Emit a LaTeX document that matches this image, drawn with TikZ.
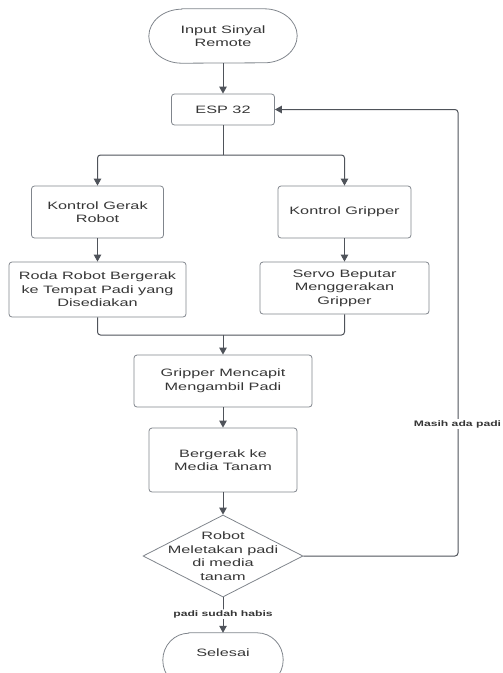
\documentclass[tikz,border=0pt]{standalone}
\usepackage{fontspec}
\setmainfont{Liberation Sans}[FakeStretch=1.52]
\usetikzlibrary{arrows.meta,shapes.geometric}

\definecolor{linegray}{HTML}{4F535A}
\definecolor{boxgray}{HTML}{80858C}
\definecolor{textgray}{HTML}{363636}

\tikzset{
    box/.style={draw=boxgray, line width=0.8pt, rounded corners=3pt, align=center,
        text=textgray, inner sep=0pt, font=\fontsize{10.7}{13.6}\selectfont},
    term/.style={align=center, text=textgray, inner sep=0pt,
        font=\fontsize{10.7}{13.6}\selectfont},
    decision/.style={diamond, draw=boxgray, line width=0.8pt, inner sep=0pt},
    line/.style={draw=linegray, line width=1pt, rounded corners=3pt},
    flow/.style={line, -{Triangle[length=7pt,width=7.5pt]}},
    cond/.style={fill=white, text=textgray, inner sep=1pt,
        font=\bfseries\fontsize{8}{9}\selectfont}
}

% outline of a terminal node: straight top and bottom, elliptic ends
\newcommand\pill[3]{%
    \draw[boxgray, line width=0.8pt] ([xshift=#2]#1.north west) -- ([xshift=-#2]#1.north east)
        arc[start angle=90, end angle=-90, x radius=#2, y radius=#3]
        -- ([xshift=#2]#1.south west)
        arc[start angle=270, end angle=90, x radius=#2, y radius=#3] -- cycle;}

\begin{document}
\begin{tikzpicture}[x=1pt, y=-1pt]
    \useasboundingbox (0,0) rectangle (503,673);
    \clip (0,0) rectangle (503,673);

    \node[term, minimum width=148pt, minimum height=54pt] (start) at (223,36) {Input Sinyal\\Remote};
    \pill{start}{33pt}{27pt}
    \node[box, minimum width=103pt, minimum height=31pt] (esp) at (223,109.5) {ESP 32};
    \node[box, minimum width=132pt, minimum height=52pt] (gerak) at (97.5,212) {Kontrol Gerak\\Robot};
    \node[box, minimum width=133pt, minimum height=52pt] (gripper) at (344.5,212) {Kontrol Gripper};
    \node[box, minimum width=177pt, minimum height=55pt] (roda) at (97.5,289.5) {Roda Robot Bergerak\\ke Tempat Padi yang\\Disediakan};
    \node[box, minimum width=169pt, minimum height=52pt] (servo) at (344.5,288) {Servo Beputar\\Menggerakan\\Gripper};
    \node[box, minimum width=178pt, minimum height=52pt] (capit) at (223,381) {Gripper Mencapit\\Mengambil Padi};
    \node[box, minimum width=148pt, minimum height=64pt] (tanam) at (223,460) {Bergerak ke\\Media Tanam};
    \node[decision, minimum width=160pt, minimum height=82pt,
        label={[term]center:Robot\\Meletakan padi\\di media\\tanam}] (place) at (223,556) {};
    \node[minimum width=120pt, minimum height=54pt, inner sep=0pt,
        label={[term, yshift=7pt]center:Selesai}] (done) at (223,660) {};
    \pill{done}{26pt}{27pt}

    \coordinate (split) at (223,155);
    \coordinate (merge) at (223,335);
    \coordinate (back) at (458,109.5);

    \draw[flow] (start.south) -- (esp.north);
    \draw[line] (esp.south) -- (split);
    \draw[flow] (split) -| (gerak.north);
    \draw[flow] (split) -| (gripper.north);
    \draw[flow] (gerak) -- (roda);
    \draw[flow] (gripper) -- (servo);
    \draw[line] (roda.south) |- (merge);
    \draw[line] (servo.south) |- (merge);
    \draw[flow] (merge) -- (capit.north);
    \draw[flow] (capit) -- (tanam);
    \draw[flow] (tanam) -- (place.north);

    % loop back while there is still rice
    \draw[flow] (place.east) -| (back) -- (esp.east);
    \node[cond] (yes) at (457.5,424) {Masih ada padi};

    \draw[flow] (place.south) -- (done.north) node[cond, pos=0.47] (no) {padi sudah habis};
\end{tikzpicture}
\end{document}
